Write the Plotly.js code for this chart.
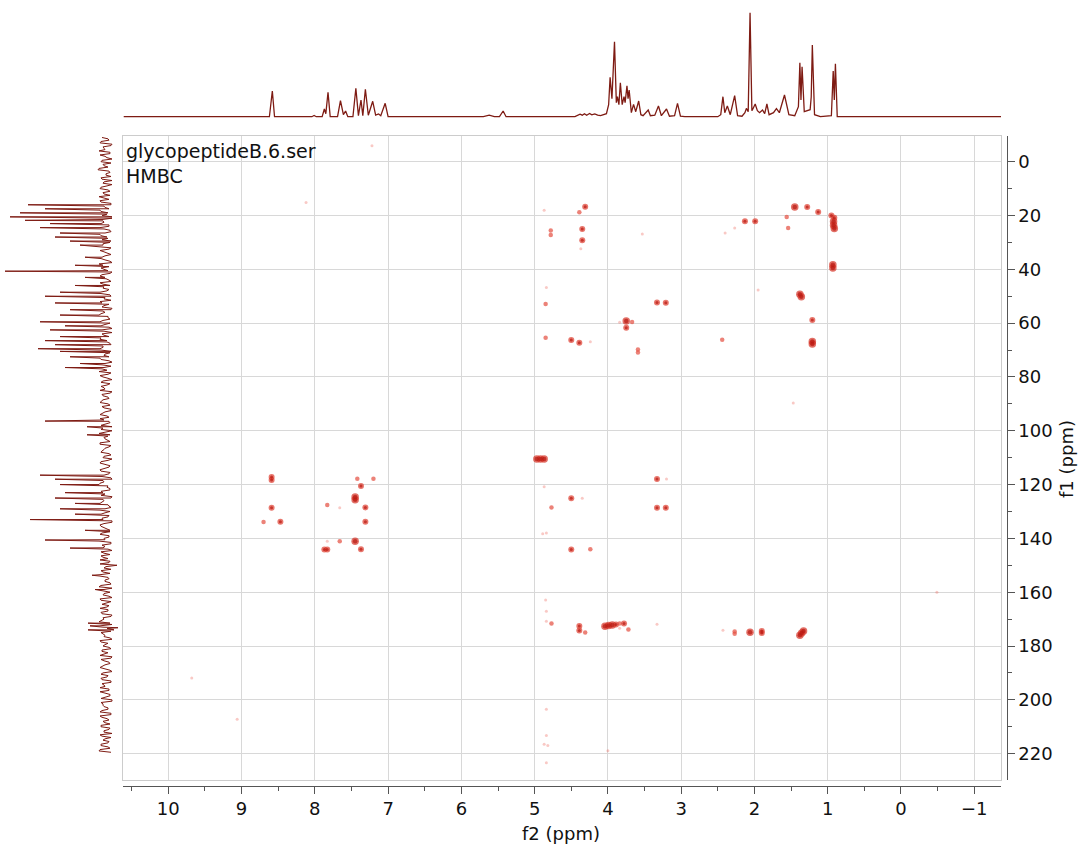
<!DOCTYPE html>
<html><head><meta charset="utf-8">
<script src="https://cdn.plot.ly/plotly-3.0.1.min.js"></script>
<style>html,body{margin:0;padding:0;background:#fff}#chart{width:1082px;height:845px}</style>
</head><body><div id="chart"></div>
<script>
// ---------- 1H projection (top): vertices (ppm, intensity) ----------
const topPpm = [10.61,8.62,8.58,8.55,8.04,8.01,7.98,7.90,7.87,7.85,7.82,7.79,7.69,7.65,7.61,7.58,7.55,
  7.48,7.44,7.405,7.37,7.345,7.31,7.27,7.21,7.17,7.13,7.10,7.04,7.00,5.70,5.62,5.55,5.48,5.43,5.39,
  4.45,4.38,4.35,4.32,4.29,4.25,4.22,4.18,4.14,4.10,4.02,3.99,3.97,3.945,3.91,3.885,3.87,3.85,3.83,3.805,
  3.78,3.765,3.74,3.725,3.71,3.68,3.65,3.62,3.58,3.55,3.52,3.45,3.42,3.36,3.31,3.27,3.20,3.16,3.09,3.05,
  3.01,2.95,2.50,2.46,2.43,2.405,2.37,2.33,2.27,2.23,2.17,2.13,2.11,2.085,2.06,2.035,2.02,1.99,1.96,1.93,
  1.89,1.86,1.83,1.80,1.74,1.70,1.66,1.59,1.53,1.45,1.40,1.38,1.365,1.35,1.32,1.28,1.24,1.225,1.21,1.18,
  1.10,0.95,0.925,0.91,0.895,0.87,-1.37];
const topInt = [0,0,25.7,0,0,1.2,0,0,7.7,3,24.4,0,0,16,2,5.7,0,
  0,28.4,1,16.7,1,27.4,1.5,15.4,1.5,2.7,1,13.4,0,0,1.5,0,0,5.7,0,
  0,2.5,1.5,3.0,1.5,3.2,1.8,2.8,1.5,1,3,12,39.4,18,75,14,20,12,34,12,
  20,14,31,18,26.7,4,12.3,5,15.7,2,1,6.7,1,1.5,10.7,1,7.7,0.5,1,13.4,
  0.5,0,0,2,20,4,10.7,2,21,1,0.5,4,8.3,5,104,6,8,12.7,6,4,
  6.7,3,12.7,2,4,8,4,21.7,2,1,10,54,16.7,50,5,6,7,20,71.7,2,
  0,1,45.7,16.7,53,0,0];

// ---------- 13C projection (left): baseline noise at whole ppm from -9 and half ppm from -8.5, plus spikes ----------
const leftStartPpm = -9;
const leftNoise = [4,-3,6,-5,2,7,-4,1,-6,5,3,-2,8,-4,0,5,-6,3,-1,6,
  -4,2,7,-3,5,-5,1,6,-2,4,-6,3,5,-3,2,-5,6,-1,4,-4,
  3,-5,6,-2,1,5,-4,7,-3,2,-6,4,1,-3,6,-4,3,-1,5,-5,
  2,6,-3,4,-5,1,7,-2,3,-4,5,-6,2,4,-3,6,-1,-5,3,5,
  -4,2,6,-3,1,-5,4,7,-2,3,-6,5,-1,2,6,-4,3,-3,5,-2,
  4,-5,1,6,-3,2,-4,5,3,-6,7,-2,1,-4,6,-3,2,5,-5,3,
  -2,6,-4,1,5,-3,4,-6,2,7,-1,-4,3,5,-5,2,6,-3,1,-4,
  5,-2,3,-6,6,1,-4,4,-3,2,7,-5,1,-2,5,-4,3,6,-3,-8,
  2,5,-4,6,-3,1,-5,7,2,-4,3,-6,5,1,-3,6,-2,4,-5,2,
  7,-6,3,-8,5,1,-4,6,-2,3,-5,4,2,-6,5,-3,1,6,-4,3,
  -2,5,-5,4,1,-3,6,-4,2,-6,5,3,-2,4,-5,6,-1,3,-4,5,
  -3,2,6,-5,3,-2,5,-4,7];
const leftNoiseHalf = [-2,5,-6,3,1,-4,6,-1,4,-5,2,7,-3,0,-5,4,2,-6,5,-2,
  3,-4,1,6,-5,2,-3,5,-1,-6,4,2,-3,6,-4,1,5,-2,-5,3,
  6,-3,2,-5,4,1,-6,3,5,-2,-4,6,0,-5,3,2,-3,6,-4,1,
  -5,4,2,-6,3,5,-2,-4,6,1,-3,4,-6,2,5,-1,-4,3,6,-5,
  1,-3,5,-6,4,2,-1,-5,6,-2,3,-4,5,1,-6,4,-2,3,6,-4,
  2,-5,4,-1,6,-3,1,-6,5,3,-4,2,-2,6,-5,1,4,-3,2,-6,
  5,1,-3,6,-4,2,-5,3,6,-2,-4,5,1,-6,3,4,-2,-5,6,1,
  -3,4,-6,2,5,-1,-4,6,-3,1,-5,4,3,-6,2,5,-2,-4,6,0,
  -5,3,6,-2,1,-4,5,-6,3,2,-3,6,-5,4,-1,-2,5,-6,3,4,
  -4,6,-1,-5,3,2,-6,5,1,-3,4,-2,6,-5,2,-4,3,1,-6,5,
  -1,4,-5,2,6,-3,1,-4,5,-6,3,2,-2,6,-5,4,-3,1,5,-4,
  2,-6,4,1,-3,5,-2,6,-5];
const leftSpikePpm = [16.0,17.5,19.0,20.5,21.8,23.0,24.5,26.5,28.0,29.5,31.0,35.5,38.5,40.7,43.0,46.0,48.5,50.0,
  52.5,55.0,57.0,59.5,61.0,62.5,65.0,66.5,68.0,69.5,70.5,72.5,75.0,76.5,96.4,98.5,101.5,116.5,118.0,120.0,
  123.0,125.0,127.0,129.0,131.0,133.0,137.0,140.6,143.6,150.0,153.7,159.0,171.5,172.5,173.2,174.0];
const leftSpikeVal = [78,61,86,96,81,56,66,46,51,36,26,21,31,101,21,31,46,61,
  51,36,46,66,41,56,46,61,51,68,46,36,26,41,61,19,19,66,51,46,
  41,51,31,46,31,76,21,61,36,-11,14,11,18,16,-12,18];

// ---------- HMBC cross-peaks: f2 (1H ppm), f1 (13C ppm), intensity level 1..4 ----------
const cpF2 = [8.59,8.59,8.59,8.70,8.47,7.42,7.20,7.37,7.45,7.45,7.31,7.83,7.66,7.31,7.45,7.66,7.83,7.87,7.83,7.37,8.12,7.22,
  4.31,4.39,4.87,4.78,4.78,4.35,4.35,4.37,3.53,4.84,4.85,3.33,3.21,3.75,3.84,3.67,3.75,4.85,4.50,4.39,4.24,3.59,3.59,
  4.97,4.92,4.87,3.33,3.20,4.87,4.50,4.35,4.77,3.33,3.21,4.89,4.84,4.50,4.24,4.85,4.84,4.84,4.77,4.39,4.39,4.31,
  4.04,3.99,3.94,3.89,3.84,3.78,3.84,3.72,3.33,2.43,2.27,2.27,2.06,1.90,1.90,1.38,1.355,1.33,
  4.84,4.84,4.87,4.82,4.00,4.84,9.68,9.06,-0.49,
  1.45,1.28,1.13,0.95,0.91,0.92,0.92,0.91,0.93,0.93,1.38,1.36,1.21,1.21,1.21,2.13,1.99,2.40,2.27,1.56,1.54,2.44,1.95,1.47];
const cpF1 = [117.2,118.3,128.6,133.9,133.8,117.8,117.8,120.5,124.6,125.6,128.5,127.6,128.6,133.8,141.1,141.1,141.1,144.1,144.1,144.0,15.2,-5.9,
  16.7,18.8,18.0,25.6,27.2,25.0,29.2,32.4,26.9,46.8,52.9,52.3,52.4,59.2,59.7,59.6,61.7,65.4,66.3,67.3,66.9,69.8,70.9,
  110.5,110.5,110.5,117.9,117.9,120.8,125.1,125.1,128.5,128.6,128.6,138.3,138.0,144.1,144.0,162.9,167.1,170.8,171.6,172.6,174.2,175.0,
  172.7,172.4,172.2,172.0,171.6,171.6,173.4,173.9,171.9,174.1,174.6,175.4,174.9,174.4,175.2,176.0,175.2,174.4,
  203.5,213.3,216.5,217.0,218.9,223.4,191.9,207.2,160.0,
  16.8,16.8,18.7,20.0,20.8,22.2,23.6,24.8,38.3,39.5,49.3,50.2,58.8,66.8,67.8,22.1,22.1,26.5,24.6,20.6,24.6,66.2,47.7,89.7];
const cpLevel = [3,3,3,2,3,2,2,3,4,4,3,2,1,3,4,2,1,3,3,3,1,1,
  3,2,1,2,2,3,3,1,1,1,2,3,3,4,1,2,3,2,3,3,1,2,2,
  4,4,4,3,1,1,3,1,2,3,3,1,1,3,2,1,1,1,2,3,3,2,
  4,4,4,3,2,3,1,2,1,1,2,2,4,3,3,4,4,4,
  1,1,1,1,1,1,1,1,1,
  4,3,3,3,3,4,4,4,4,4,4,4,3,4,4,3,3,1,1,2,2,2,1,1];

// ---------- axis ranges ----------
const f2Range = [10.614, -1.365];
const f1Range = [229.8, -9.55];

// build left projection (sorted by ppm)
const leftPts = leftNoise.map((v, i) => [leftStartPpm + i, v]);
leftNoiseHalf.forEach((v, i) => leftPts.push([leftStartPpm + 0.5 + i, v]));
leftSpikePpm.forEach((p, i) => leftPts.push([p, leftSpikeVal[i]]));
leftPts.sort((a, b) => a[0] - b[0]);

const outerSize = {1: 3, 2: 4.5, 3: 6, 4: 7.5};
const outerColor = {1: 'rgba(238,100,90,0.5)', 2: '#e44d3f', 3: '#de3d2f', 4: '#d63225'};
const innerSize = {3: 3, 4: 4.5};
const inF2 = [], inF1 = [], inS = [];
cpLevel.forEach((l, i) => { if (l >= 3) { inF2.push(cpF2[i]); inF1.push(cpF1[i]); inS.push(innerSize[l]); } });

const specColor = '#7e1b13';
const traces = [
  {type: 'scatter', mode: 'lines', x: topPpm, y: topInt, xaxis: 'x4', yaxis: 'y4',
   line: {color: specColor, width: 1.3}, hoverinfo: 'skip', showlegend: false},
  {type: 'scatter', mode: 'lines', x: leftPts.map(p => p[1]), y: leftPts.map(p => p[0]), xaxis: 'x5', yaxis: 'y5',
   line: {color: specColor, width: 1}, hoverinfo: 'skip', showlegend: false},
  {type: 'scatter', mode: 'markers', x: cpF2, y: cpF1, xaxis: 'x', yaxis: 'y',
   marker: {size: cpLevel.map(l => outerSize[l]), color: cpLevel.map(l => outerColor[l]), line: {width: 0}},
   hoverinfo: 'skip', showlegend: false},
  {type: 'scatter', mode: 'markers', x: inF2, y: inF1, xaxis: 'x', yaxis: 'y',
   marker: {size: inS, color: '#b81a12', line: {width: 0}}, hoverinfo: 'skip', showlegend: false},
  {type: 'scatter', mode: 'markers', x: [null], y: [null], xaxis: 'x3', yaxis: 'y3', hoverinfo: 'skip', showlegend: false}
];

const fontFam = 'DejaVu Sans, sans-serif';
const xDom = [123.3/1082, 1001/1082];
const yDom = [1 - 780/845, 1 - 136/845];
const gridStyle = {showgrid: true, gridcolor: '#d8d8d8', gridwidth: 1, showline: true, linecolor: '#cccccc', linewidth: 1,
  mirror: true, zeroline: false, showticklabels: false, ticks: '', fixedrange: true};
const tickStyle = {showgrid: false, zeroline: false, showline: true, linecolor: '#555', linewidth: 1, ticks: 'outside',
  ticklen: 7, tickwidth: 1, tickcolor: '#555', tickfont: {family: fontFam, size: 18, color: '#111'}, fixedrange: true};

const layout = {
  width: 1082, height: 845, margin: {l: 0, r: 0, t: 0, b: 0, pad: 0},
  paper_bgcolor: '#fff', plot_bgcolor: '#fff', showlegend: false,
  xaxis: Object.assign({domain: xDom, range: f2Range, dtick: 1, tick0: 0, anchor: 'y'}, gridStyle),
  yaxis: Object.assign({domain: yDom, range: f1Range, dtick: 20, tick0: 0, anchor: 'x'}, gridStyle),
  xaxis3: Object.assign({overlaying: 'x', anchor: 'free', position: 1 - 785.5/845, range: f2Range, dtick: 1, tick0: 0,
    minor: {dtick: 0.5, ticks: 'outside', ticklen: 4, tickcolor: '#555', showgrid: false}}, tickStyle),
  yaxis3: Object.assign({overlaying: 'y', anchor: 'free', side: 'right', position: 1006.7/1082, range: f1Range, dtick: 20, tick0: 0,
    minor: {dtick: 10, ticks: 'outside', ticklen: 4, tickcolor: '#555', showgrid: false}}, tickStyle),
  xaxis4: {domain: xDom, range: f2Range, visible: false, anchor: 'y4', fixedrange: true},
  yaxis4: {domain: [1 - 120/845, 1], range: [-3.3, 116.7], visible: false, anchor: 'x4', fixedrange: true},
  xaxis5: {domain: [0, 122/1082], range: [106, -16], visible: false, anchor: 'y5', fixedrange: true},
  yaxis5: {domain: yDom, range: f1Range, visible: false, anchor: 'x5', fixedrange: true},
  annotations: [
    {xref: 'paper', yref: 'paper', x: 124/1082, y: 1 - 138/845, xanchor: 'left', yanchor: 'top', align: 'left',
     text: 'glycopeptideB.6.ser<br>HMBC', showarrow: false, font: {family: fontFam, size: 19, color: '#111'}},
    {xref: 'paper', yref: 'paper', x: 561/1082, y: 1 - 833/845, xanchor: 'center', yanchor: 'middle',
     text: 'f2 (ppm)', showarrow: false, font: {family: fontFam, size: 18, color: '#111'}},
    {xref: 'paper', yref: 'paper', x: 1066/1082, y: 1 - 459/845, xanchor: 'center', yanchor: 'middle', textangle: -90,
     text: 'f1 (ppm)', showarrow: false, font: {family: fontFam, size: 18, color: '#111'}}
  ]
};

Plotly.newPlot('chart', traces, layout, {displayModeBar: false, staticPlot: true});
</script></body></html>
